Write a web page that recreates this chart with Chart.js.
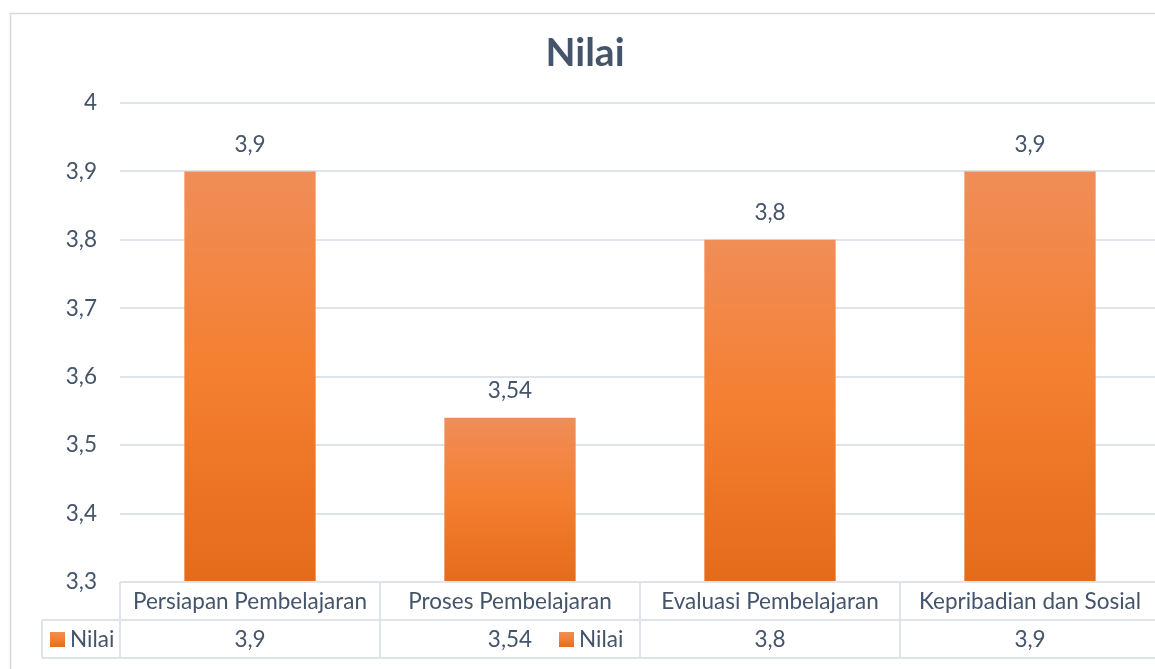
<!DOCTYPE html>
<html>
<head>
<meta charset="utf-8">
<script src="https://cdn.jsdelivr.net/npm/chart.js@4.4.1/dist/chart.umd.min.js"></script>
<style>
    html, body { margin: 0; padding: 0; background: #fff; overflow: hidden; }
    #wrap { position: relative; width: 1165px; height: 669px; }
</style>
</head>
<body>
<div id="wrap"><canvas id="chart" width="1165" height="669"></canvas></div>
<script>
// chart data
const categories = ['Persiapan Pembelajaran', 'Proses Pembelajaran', 'Evaluasi Pembelajaran', 'Kepribadian dan Sosial'];
const nilai = [3.9, 3.54, 3.8, 3.9];
const seriesName = 'Nilai';
const chartTitle = 'Nilai';
const yMin = 3.3;
const yMax = 4;
const yStep = 0.1;

const FONT = 'Lato, "Open Sans", sans-serif';
const TEXT = '#44546a';
const LINE = '#dfe3ea';
const SIZE = 22.5;

function fmt(v) {
    return String(Math.round(v * 100) / 100).replace('.', ',');
}

function barGradient(ctx, top, bottom) {
    const g = ctx.createLinearGradient(0, top, 0, bottom);
    g.addColorStop(0, '#f08d58');
    g.addColorStop(0.5, '#f47f30');
    g.addColorStop(1, '#e46b1a');
    return g;
}

/**
 * Title, data labels, data table and outer frame
 */
const decorPlugin = {
    id: 'decor',
    afterDatasetsDraw(chart) {
        const ctx = chart.ctx;
        const meta = chart.getDatasetMeta(0);
        ctx.save();
        ctx.fillStyle = TEXT;
        ctx.font = SIZE + 'px ' + FONT;
        ctx.textAlign = 'center';
        ctx.textBaseline = 'middle';
        meta.data.forEach((bar, i) => {
            ctx.fillText(fmt(nilai[i]), bar.x, bar.y - 27);
        });
        ctx.restore();
    },
    afterDraw(chart) {
        const ctx = chart.ctx;
        const area = chart.chartArea;
        const x = chart.scales.x;
        const W = chart.width;
        const rowTop = area.bottom;
        const rowMid = rowTop + 38;
        const rowBot = rowTop + 76;
        const legendLeft = 42;

        ctx.save();
        // outer frame
        ctx.strokeStyle = '#d9d9d9';
        ctx.lineWidth = 1.5;
        ctx.beginPath();
        ctx.moveTo(10.5, chart.height);
        ctx.lineTo(10.5, 13.5);
        ctx.lineTo(W, 13.5);
        ctx.stroke();

        // title
        ctx.fillStyle = TEXT;
        ctx.font = 'bold 39px ' + FONT;
        ctx.textAlign = 'center';
        ctx.textBaseline = 'middle';
        ctx.fillText(chartTitle, 585, 53);

        // data table grid
        ctx.strokeStyle = LINE;
        ctx.lineWidth = 2;
        ctx.beginPath();
        ctx.moveTo(area.left, rowTop); ctx.lineTo(W, rowTop);
        ctx.moveTo(legendLeft, rowMid); ctx.lineTo(W, rowMid);
        ctx.moveTo(legendLeft, rowBot); ctx.lineTo(W, rowBot);
        ctx.moveTo(legendLeft, rowMid); ctx.lineTo(legendLeft, rowBot);
        ctx.moveTo(area.left, rowTop); ctx.lineTo(area.left, rowBot);
        const half = (x.getPixelForValue(1) - x.getPixelForValue(0)) / 2;
        categories.forEach((c, i) => {
            const r = x.getPixelForValue(i) + half;
            ctx.moveTo(r, rowTop); ctx.lineTo(r, rowBot);
        });
        ctx.stroke();

        // table text
        ctx.fillStyle = TEXT;
        ctx.font = SIZE + 'px ' + FONT;
        ctx.textAlign = 'center';
        categories.forEach((c, i) => {
            const cx = x.getPixelForValue(i);
            ctx.fillText(c, cx, (rowTop + rowMid) / 2 + 1);
            ctx.fillText(fmt(nilai[i]), cx, (rowMid + rowBot) / 2 + 1);
        });

        // legend keys
        const drawKey = (kx, ky) => {
            ctx.fillStyle = barGradient(ctx, ky, ky + 15);
            ctx.fillRect(kx, ky, 15, 15);
            ctx.fillStyle = TEXT;
            ctx.textAlign = 'left';
            ctx.fillText(seriesName, kx + 20, ky + 8);
        };
        drawKey(legendLeft + 8, rowMid + 12);
        drawKey(559, rowMid + 12);
        ctx.restore();
    }
};

const ctx = document.getElementById('chart').getContext('2d');

new Chart(ctx, {
    type: 'bar',
    data: {
        labels: categories,
        datasets: [{
            label: seriesName,
            data: nilai,
            backgroundColor: function(context) {
                const chart = context.chart;
                const area = chart.chartArea;
                if (!area) return '#f47f30';
                const top = chart.scales.y.getPixelForValue(context.raw);
                return barGradient(chart.ctx, top, area.bottom);
            },
            borderWidth: 0,
            categoryPercentage: 1,
            barPercentage: 0.505
        }]
    },
    options: {
        responsive: false,
        animation: false,
        layout: {
            padding: { top: 103, bottom: 87, left: 0, right: 5 }
        },
        plugins: {
            legend: { display: false },
            title: { display: false },
            tooltip: { enabled: false }
        },
        scales: {
            x: {
                display: false
            },
            y: {
                min: yMin,
                max: yMax,
                afterFit(scale) { scale.width = 120; },
                border: { display: false },
                grid: {
                    color: LINE,
                    lineWidth: 2,
                    drawTicks: false
                },
                ticks: {
                    stepSize: yStep,
                    padding: 23,
                    color: TEXT,
                    font: { family: FONT, size: SIZE },
                    callback: function(value) {
                        return fmt(value);
                    }
                }
            }
        }
    },
    plugins: [decorPlugin]
});
</script>
</body>
</html>
